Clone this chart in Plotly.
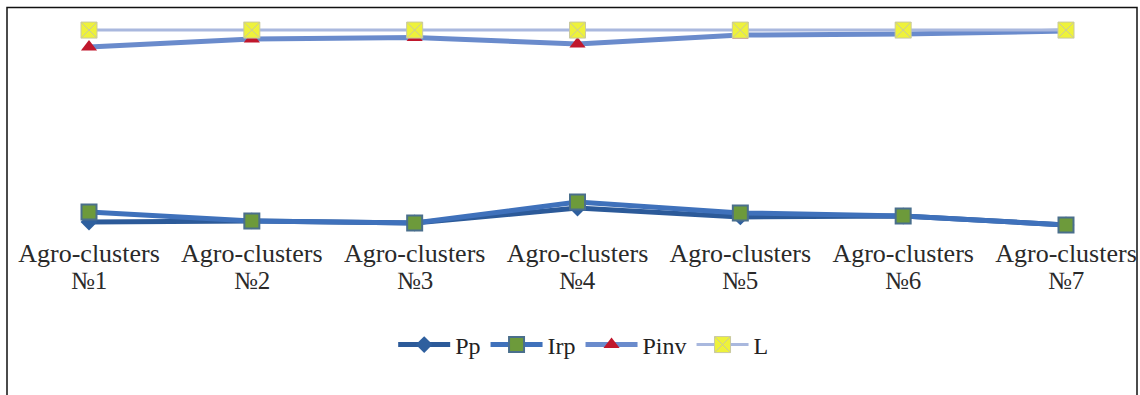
import plotly.graph_objects as go

categories = ["Agro-clusters №1", "Agro-clusters №2", "Agro-clusters №3", "Agro-clusters №4",
              "Agro-clusters №5", "Agro-clusters №6", "Agro-clusters №7"]
tick_top = ["Agro-clusters"] * 7
tick_bottom = ["№1", "№2", "№3", "№4", "№5", "№6", "№7"]

pp = [0.055, 0.060, 0.051, 0.115, 0.077, 0.081, 0.043]
irp = [0.098, 0.060, 0.051, 0.140, 0.094, 0.081, 0.043]
pinv = [0.800, 0.834, 0.840, 0.813, 0.851, 0.855, 0.868]
L = [0.872, 0.872, 0.872, 0.872, 0.872, 0.872, 0.872]

x = list(range(len(categories)))
serif = "Liberation Serif"

fig = go.Figure()
fig.add_trace(go.Scatter(x=x, y=pp, name="Pp", mode="lines+markers",
                         line=dict(color="#2c5a99", width=5),
                         marker=dict(symbol="diamond", size=13, color="#2e5f9e")))
fig.add_trace(go.Scatter(x=x, y=irp, name="Irp", mode="lines+markers",
                         line=dict(color="#3f71bb", width=5),
                         marker=dict(symbol="square", size=15, color="#6d9a3b",
                                     line=dict(color="#4a6f8c", width=2))))
fig.add_trace(go.Scatter(x=x, y=pinv, name="Pinv", mode="lines+markers",
                         line=dict(color="#6a8bcc", width=5),
                         marker=dict(symbol="triangle-up", size=14, color="#c0172c")))
fig.add_trace(go.Scatter(x=x, y=L, name="L", mode="lines+markers",
                         line=dict(color="#a9b8de", width=3),
                         marker=dict(symbol="square-x", size=16, color="#eef23a",
                                     line=dict(color="#c9c9a0", width=1))))

for i, t in enumerate(tick_bottom):
    fig.add_annotation(x=i, y=-0.193, xref="x", yref="paper", text=t, showarrow=False,
                       font=dict(family=serif, size=25, color="#2a2a2a"),
                       xanchor="center", yanchor="middle")

fig.add_shape(type="rect", xref="paper", yref="paper",
              x0=7/1140, x1=1137/1140, y0=-0.75, y1=(235-7.5)/235,
              line=dict(color="#111111", width=1.5), fillcolor="rgba(0,0,0,0)")

fig.update_layout(
    width=1140, height=395,
    margin=dict(l=0, r=0, t=0, b=160, autoexpand=False),
    plot_bgcolor="white", paper_bgcolor="white",
    showlegend=True,
    legend=dict(orientation="h", x=0.512, xanchor="center", y=-0.468, yanchor="middle",
                font=dict(family=serif, size=24, color="#222222"), itemwidth=52),
    xaxis=dict(range=[-89/162.83, 6 + 74/162.83], tickvals=x, ticktext=tick_top,
               showgrid=False, zeroline=False, showline=False, ticks="", automargin=False,
               tickfont=dict(family=serif, size=26, color="#2a2a2a")),
    yaxis=dict(range=[0, 1], visible=False, showgrid=False, automargin=False),
)

fig.write_html("out.html", config={"displayModeBar": False},
               post_script="document.body.style.margin='0';")
